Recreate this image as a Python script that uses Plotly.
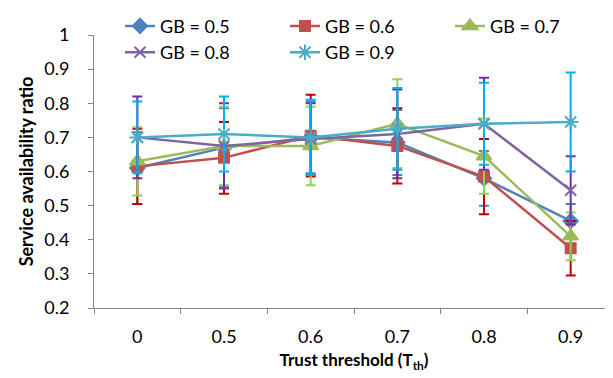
import plotly.graph_objects as go

categories = ["0", "0.5", "0.6", "0.7", "0.8", "0.9"]

series_names = ["GB = 0.5", "GB = 0.6", "GB = 0.7", "GB = 0.8", "GB = 0.9"]

gb05 = [0.61, 0.67, 0.70, 0.685, 0.58, 0.455]
gb06 = [0.615, 0.64, 0.705, 0.675, 0.585, 0.375]
gb07 = [0.63, 0.675, 0.675, 0.74, 0.645, 0.41]
gb08 = [0.70, 0.675, 0.695, 0.71, 0.74, 0.545]
gb09 = [0.70, 0.71, 0.70, 0.725, 0.74, 0.745]

err05 = [0.105, 0.115, 0.105, 0.095, 0.08, 0.05]
err06 = [0.11, 0.105, 0.12, 0.11, 0.11, 0.08]
err07 = [0.10, 0.115, 0.115, 0.13, 0.11, 0.07]
err08 = [0.12, 0.125, 0.105, 0.13, 0.135, 0.10]
err09 = [0.105, 0.11, 0.11, 0.12, 0.12, 0.145]

values = [gb05, gb06, gb07, gb08, gb09]
errors = [err05, err06, err07, err08, err09]
line_colors = ["#4F81BD", "#C0504D", "#9BBB59", "#8064A2", "#4BACC6"]
err_colors = ["#4F81BD", "#C00000", "#92D050", "#7030A0", "#00B0F0"]
symbols = ["diamond", "square", "triangle-up", "x-thin-open", "asterisk-open"]
sizes = [11, 10, 13, 11, 13]

FONT = "Lato, 'Open Sans', sans-serif"

fig = go.Figure()
for name, v, e, lc, ec, sym, sz in zip(series_names, values, errors, line_colors, err_colors, symbols, sizes):
    fig.add_trace(go.Scatter(
        x=categories, y=v, name=name, mode="lines+markers",
        line=dict(color=lc, width=2.5),
        marker=dict(symbol=sym, size=sz, color=lc, line=dict(color=lc, width=2)),
        error_y=dict(type="data", array=e, visible=True, color=ec, thickness=2, width=5),
    ))

fig.update_layout(
    width=613, height=378,
    margin=dict(l=86, r=7, t=27, b=78, autoexpand=False),
    paper_bgcolor="white", plot_bgcolor="white",
    font=dict(family=FONT, size=18, color="#000000"),
    showlegend=True,
    legend=dict(
        orientation="h", x=0.05, xanchor="left", y=1.10, yanchor="top",
        entrywidth=120, bgcolor="rgba(0,0,0,0)",
        font=dict(family=FONT, size=18),
        tracegroupgap=0,
    ),
    xaxis=dict(
        type="category", range=[-0.5, 5.5],
        showline=True, linecolor="#868686", linewidth=1,
        ticks="outside", tickson="boundaries", ticklen=5, tickcolor="#868686",
        showgrid=False, zeroline=False,
        tickfont=dict(family=FONT, size=18),
        ticklabelstandoff=12,
        title=dict(text="<b>Trust threshold (T<sub>th</sub>)</b>", font=dict(family=FONT, size=17), standoff=8),
    ),
    yaxis=dict(
        range=[0.2, 1.0], dtick=0.1, tick0=0.2,
        showline=True, linecolor="#868686", linewidth=1,
        ticks="outside", ticklen=5, tickcolor="#868686",
        showgrid=False, zeroline=False,
        tickfont=dict(family=FONT, size=18),
        ticklabelstandoff=15,
        title=dict(text="<b>Service availability ratio</b>", font=dict(family=FONT, size=18), standoff=5),
    ),
)

fig.write_html("out.html")
